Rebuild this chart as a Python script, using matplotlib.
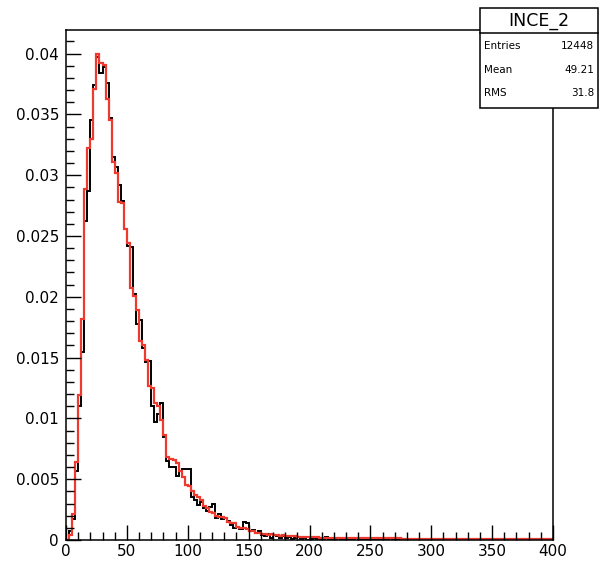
import numpy as np
import matplotlib
matplotlib.use("Agg")
import matplotlib.pyplot as plt
from matplotlib.patches import Rectangle
from matplotlib.ticker import MultipleLocator

plt.rcParams['font.family'] = ['DejaVu Sans']

# ---- data (bin width 2.5, range 0..400, 160 bins) ----
x_min, x_max, n_bins = 0.0, 400.0, 160

data_hist = [
    0.0, 0.0007, 0.0017, 0.0057, 0.0110, 0.0155, 0.0262, 0.0287, 0.0345, 0.0374,
    0.0397, 0.0384, 0.0389, 0.0376, 0.0347, 0.0315, 0.0307, 0.0292, 0.0279, 0.0256,
    0.0242, 0.0241, 0.0202, 0.0178, 0.0181, 0.0158, 0.0146, 0.0147, 0.0110, 0.0097,
    0.0104, 0.0113, 0.0085, 0.0065, 0.0060, 0.0060, 0.0053, 0.0057, 0.0058, 0.0058,
    0.0058, 0.0035, 0.0033, 0.0029, 0.0031, 0.0026, 0.0024, 0.0027, 0.0030, 0.0018,
    0.0021, 0.0017, 0.0018, 0.0016, 0.0012, 0.0010, 0.0011, 0.0009, 0.0015, 0.0014,
    0.0007, 0.0008, 0.0006, 0.0007, 0.0004, 0.0003, 0.0005, 0.0002, 0.0004, 0.0003,
    0.0002, 0.0003, 0.00016, 0.00024, 0.00008, 0.00016, 0.00024, 0.00008, 0.00016, 0.0,
    0.00008, 0.00016, 0.00008, 0.0, 0.00008, 0.00024, 0.0, 0.00008, 0.0, 0.00016,
    0.00008, 0.0, 0.00008, 0.0, 0.0, 0.00016, 0.0, 0.00008, 0.0, 0.0,
    0.00008, 0.0, 0.0, 0.00008, 0.0, 0.0, 0.00016, 0.0, 0.0, 0.00008,
    0.0, 0.0, 0.0, 0.00008, 0.0, 0.0, 0.0, 0.0, 0.00008, 0.0,
    0.0, 0.0, 0.0, 0.0, 0.00008, 0.0, 0.0, 0.0, 0.0, 0.0,
    0.0, 0.00008, 0.0, 0.0, 0.0, 0.0, 0.0, 0.0, 0.00008, 0.0,
    0.0, 0.0, 0.0, 0.0, 0.0, 0.0, 0.0, 0.0, 0.0, 0.0,
    0.0, 0.0, 0.0, 0.0, 0.0, 0.0, 0.0, 0.0, 0.0, 0.0,
]

fit_hist = [
    0.0, 0.0004, 0.0021, 0.0064, 0.0119, 0.0182, 0.0289, 0.0322, 0.0330, 0.0371,
    0.0400, 0.0392, 0.0391, 0.0363, 0.0345, 0.0311, 0.0302, 0.0278, 0.0277, 0.0256,
    0.0244, 0.0207, 0.0201, 0.0189, 0.0164, 0.0160, 0.0148, 0.0127, 0.0125, 0.0113,
    0.0110, 0.0099, 0.0086, 0.0068, 0.0067, 0.0066, 0.0063, 0.0057, 0.0052, 0.0045,
    0.0044, 0.0040, 0.0037, 0.0035, 0.0033, 0.0028, 0.0026, 0.0023, 0.0022, 0.0020,
    0.0019, 0.0019, 0.0018, 0.0015, 0.0014, 0.0014, 0.0011, 0.0010, 0.0010, 0.0009,
    0.0007, 0.0007, 0.0006, 0.0006, 0.0005, 0.0005, 0.0004, 0.0005, 0.0004, 0.0004,
    0.0003, 0.0004, 0.0003, 0.0003, 0.0003, 0.0003, 0.00025, 0.00025, 0.00023, 0.00023,
    0.00022, 0.00021, 0.00021, 0.00020, 0.00020, 0.00019, 0.00019, 0.00018, 0.00018, 0.00017,
    0.00017, 0.00017, 0.00016, 0.00016, 0.00016, 0.00015, 0.00015, 0.00015, 0.00015, 0.00014,
    0.00014, 0.00014, 0.00014, 0.00014, 0.00013, 0.00013, 0.00013, 0.00013, 0.00013, 0.00013,
    0.00012, 0.00012, 0.00012, 0.00012, 0.00012, 0.00012, 0.00012, 0.00012, 0.00012, 0.00011,
    0.00011, 0.00011, 0.00011, 0.00011, 0.00011, 0.00011, 0.00011, 0.00011, 0.00011, 0.00011,
    0.00011, 0.00010, 0.00010, 0.00010, 0.00010, 0.00010, 0.00010, 0.00010, 0.00010, 0.00010,
    0.00010, 0.00010, 0.00010, 0.00010, 0.00010, 0.00010, 0.00010, 0.00010, 0.00010, 0.00010,
    0.00010, 0.00010, 0.00010, 0.00010, 0.00010, 0.00010, 0.00010, 0.00010, 0.00010, 0.00010,
]

hist_name = "INCE_2"
stat_labels = ["Entries", "Mean", "RMS"]
stat_values = ["12448", "49.21", "31.8"]
y_max = 0.04194

# ---- figure ----
W, H = 599, 562
fig = plt.figure(figsize=(W / 100, H / 100), dpi=100)
ax = fig.add_axes([66 / W, (H - 540) / H, (553 - 66) / W, (540 - 30) / H])

edges = np.linspace(x_min, x_max, n_bins + 1)
ax.stairs(data_hist, edges, color='black', linewidth=1.4, baseline=0)
ax.stairs(fit_hist, edges, color='#ee3a2e', linewidth=1.6, baseline=0)

ax.set_xlim(x_min, x_max)
ax.set_ylim(0, y_max)

ax.xaxis.set_major_locator(MultipleLocator(50))
ax.xaxis.set_minor_locator(MultipleLocator(10))
ax.yaxis.set_major_locator(MultipleLocator(0.005))
ax.yaxis.set_minor_locator(MultipleLocator(0.001))
ax.yaxis.set_major_formatter(matplotlib.ticker.FuncFormatter(
    lambda v, p: "0" if abs(v) < 1e-12 else ("%g" % round(v, 4))))

ax.tick_params(which='both', direction='in', top=False, right=False,
               labelsize=11, colors='black')
ax.tick_params(which='major', length=10.5, width=1.0)
ax.tick_params(which='minor', length=5.5, width=1.0)
ax.tick_params(axis='y', which='major', pad=5)
ax.tick_params(axis='x', which='major', pad=3)
for sp in ax.spines.values():
    sp.set_linewidth(1.1)

# ---- stats box ----
def fx(px):
    return px / W

def fy(py):
    return 1 - py / H

bx0, bx1, by0, by1, bdiv = 480, 598, 8, 108, 33
fig.patches.append(Rectangle((fx(bx0), fy(by1)), fx(bx1) - fx(bx0), fy(by0) - fy(by1),
                             transform=fig.transFigure, facecolor='white',
                             edgecolor='black', linewidth=1.1, zorder=5))
fig.lines.append(plt.Line2D([fx(bx0), fx(bx1)], [fy(bdiv), fy(bdiv)],
                            transform=fig.transFigure, color='black',
                            linewidth=1.1, zorder=6))
fig.text(fx((bx0 + bx1) / 2), fy(20.5), hist_name, ha='center', va='center',
         fontsize=12.5, zorder=7)
row_y = [46, 70, 93]
for lab, val, ry in zip(stat_labels, stat_values, row_y):
    fig.text(fx(484), fy(ry), lab, ha='left', va='center', fontsize=7.5, zorder=7)
    fig.text(fx(594), fy(ry), val, ha='right', va='center', fontsize=7.5, zorder=7)

fig.savefig("out.png", dpi=100)
